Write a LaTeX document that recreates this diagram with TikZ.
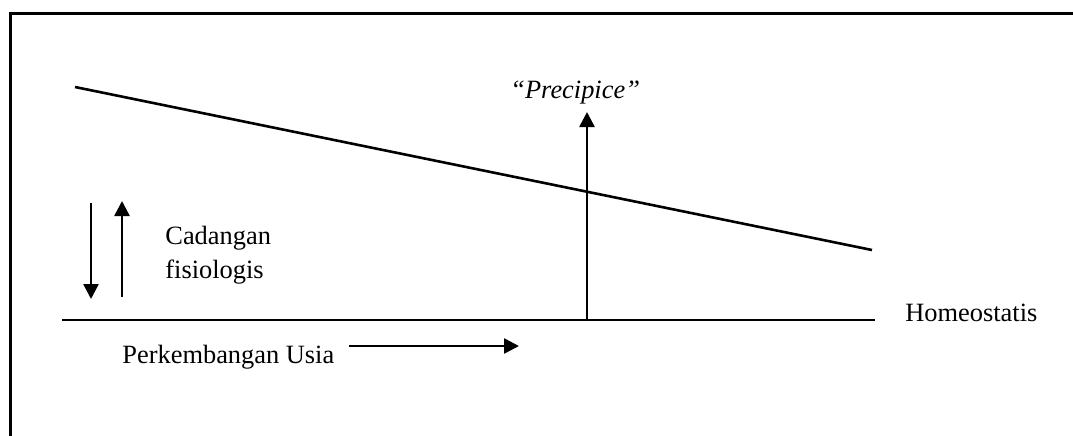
\documentclass[tikz,border=0pt]{standalone}
\usepackage{fontspec}
\setmainfont{Liberation Serif}
\usetikzlibrary{arrows.meta}
\begin{document}
\begin{tikzpicture}[x=0.5pt,y=-0.5pt,
  lbl/.style={inner sep=0pt,font=\fontsize{13.2}{16}\selectfont},
  ln/.style={line width=1.3pt},
  arr/.style={line width=1.3pt,-{Triangle[length=7.5pt,width=7.5pt]}},
  frame/.style={line width=1.5pt}]
\useasboundingbox (0,0) rectangle (1073,435);
\draw[frame] (10,437) -- (10,13) -- (1075,13);
% sloped reserve line
\coordinate (s1) at (75,87);
\coordinate (s2) at (872,250);
\draw[ln] (s1) -- (s2);
% homeostasis baseline
\coordinate (h1) at (62,320);
\coordinate (h2) at (875,320);
\draw[ln] (h1) -- (h2);
\node[lbl,anchor=base west] (homeo) at (905,321) {Homeostatis};
% precipice arrow
\coordinate (p0) at (587,320);
\coordinate (p1) at (587,112);
\draw[arr] (p0) -- (p1);
\node[lbl,anchor=base west] (prec) at (510,98) {\textit{``Precipice''}};
% reserve arrows
\coordinate (d0) at (91,203);
\coordinate (d1) at (91,299);
\draw[arr] (d0) -- (d1);
\coordinate (u0) at (122,297);
\coordinate (u1) at (122,201);
\draw[arr] (u0) -- (u1);
\node[lbl,anchor=base west] (cad) at (165,244) {Cadangan};
\node[lbl,anchor=base west] (fis) at (165,278) {fisiologis};
% age arrow
\node[lbl,anchor=base west] (age) at (122,363) {Perkembangan Usia};
\coordinate (a0) at (349,346);
\coordinate (a1) at (519,346);
\draw[arr] (a0) -- (a1);
\end{tikzpicture}
\end{document}
